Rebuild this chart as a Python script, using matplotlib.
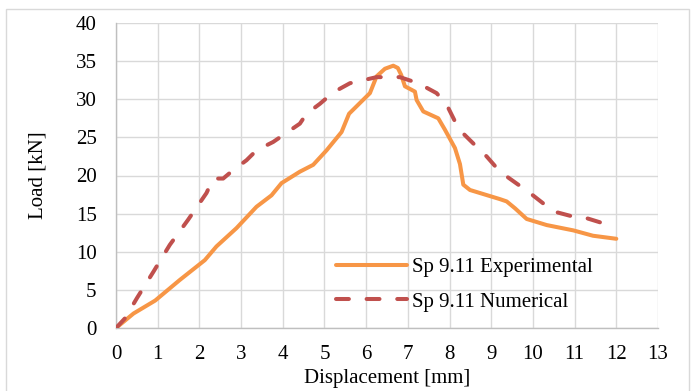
import matplotlib
matplotlib.use("Agg")
import matplotlib.pyplot as plt
from matplotlib.patches import Rectangle

plt.rcParams['font.family'] = ['Liberation Serif', 'DejaVu Serif']

exp_x = [0, 0.42, 0.94, 1.53, 2.13, 2.41, 2.89, 3.37, 3.73, 3.97, 4.41, 4.73, 5.05, 5.41,
         5.59, 6.09, 6.25, 6.45, 6.65, 6.76, 6.84, 6.93, 7.17, 7.21, 7.37, 7.73, 7.89, 8.13,
         8.25, 8.33, 8.49, 9.21, 9.37, 9.57, 9.85, 10.33, 10.97, 11.44, 12.0]
exp_y = [0, 1.9, 3.6, 6.3, 8.9, 10.7, 13.1, 15.9, 17.4, 19.0, 20.5, 21.4, 23.3, 25.7,
         28.1, 30.8, 33.0, 34.0, 34.4, 34.1, 33.2, 31.7, 31.0, 29.9, 28.4, 27.5, 26.0, 23.6,
         21.5, 18.8, 18.1, 16.9, 16.6, 15.7, 14.3, 13.5, 12.8, 12.1, 11.7]

num_x = [0, 0.22, 0.5, 0.9, 1.29, 1.73, 2.17, 2.33, 2.57, 2.81, 3.13, 3.37, 3.77, 4.01,
         4.41, 4.57, 4.89, 5.21, 5.61, 5.77, 6.25, 6.81, 7.25, 7.69, 7.93, 8.13, 8.33,
         8.57, 8.89, 9.21, 9.93, 10.49, 10.97, 11.29, 12.0]
num_y = [0, 1.3, 3.9, 7.4, 10.9, 14.2, 17.7, 19.6, 19.6, 20.7, 22.0, 23.3, 24.4, 25.3,
         26.8, 28.1, 29.4, 30.9, 32.1, 32.3, 32.9, 32.9, 32.1, 30.8, 29.3, 27.1, 25.5,
         24.2, 22.5, 20.5, 17.7, 15.3, 14.6, 14.4, 13.2]

x_ticks = list(range(0, 14))
y_ticks = list(range(0, 41, 5))

fig = plt.figure(figsize=(6.94, 3.91), dpi=100)
ax = fig.add_axes([116/694, 1 - 328/391, (658 - 116)/694, (328 - 23)/391])

# outer chart border
fig.patches.append(Rectangle((6/694, -0.05), (689 - 6)/694, 1.05 - 9/391,
                             transform=fig.transFigure, fill=False,
                             edgecolor='#d9d9d9', linewidth=1.0))

ax.plot(exp_x, exp_y, color='#F79646', linewidth=2.9, solid_capstyle='round',
        solid_joinstyle='round', label='Sp 9.11 Experimental', zorder=3)
ax.plot(num_x, num_y, color='#C0504D', linewidth=2.9, dashes=(3.2, 4.4),
        dash_capstyle='round', dash_joinstyle='round',
        label='Sp 9.11 Numerical', zorder=3)

ax.set_xlim(0, 13)
ax.set_ylim(0, 40)
ax.set_xticks(x_ticks)
ax.set_yticks(y_ticks)
ax.tick_params(length=0, labelsize=15, colors='black')
ax.tick_params(axis='x', pad=12)
ax.tick_params(axis='y', pad=14)
ax.grid(True, color='#d9d9d9', linewidth=1.0, zorder=0)
ax.set_axisbelow(True)
for side in ['top', 'right']:
    ax.spines[side].set_visible(False)
for side in ['left', 'bottom']:
    ax.spines[side].set_color('#bfbfbf')
    ax.spines[side].set_linewidth(1.0)

ax.set_xlabel('Displacement [mm]', fontsize=15, labelpad=4)
ax.set_ylabel('Load [kN]', fontsize=15, labelpad=20)

leg = ax.legend(loc='lower left', bbox_to_anchor=((336 - 116)/542, (328 - 311.5)/305),
                frameon=False, fontsize=15, handlelength=3.4, handletextpad=0.25,
                labelspacing=0.7, borderpad=0, borderaxespad=0)

fig.savefig('out.png', dpi=100)
